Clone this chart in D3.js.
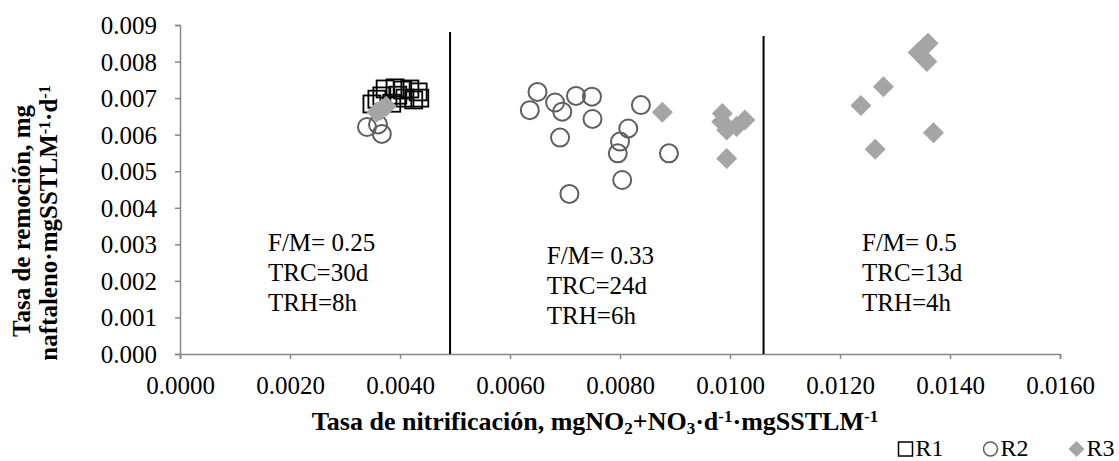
<!DOCTYPE html>
<html><head><meta charset="utf-8">
<script src="https://cdn.jsdelivr.net/npm/d3@7"></script>
<style>body{margin:0;background:#fff}svg{display:block}</style>
</head><body><svg id="c" width="1119" height="461"></svg>
<script>
// ---- data ----
const xTicks = [0, 0.002, 0.004, 0.006, 0.008, 0.010, 0.012, 0.014, 0.016];
const yTicks = [0, 0.001, 0.002, 0.003, 0.004, 0.005, 0.006, 0.007, 0.008, 0.009];
const seriesNames = ["R1", "R2", "R3"];

const r1X = [0.00358, 0.00385, 0.00373, 0.00391, 0.00405, 0.00418, 0.00433, 0.00425, 0.00409, 0.00396, 0.00367, 0.00349, 0.00436];
const r1Y = [0.00697, 0.00686, 0.00725, 0.00728, 0.00722, 0.00725, 0.00717, 0.00695, 0.00700, 0.00708, 0.00706, 0.00684, 0.00700];

const r2X = [0.00340, 0.00367, 0.00360, 0.00650, 0.00636, 0.00682, 0.00695, 0.00720, 0.00749, 0.00750, 0.00691, 0.00838, 0.00815, 0.00800, 0.00796, 0.00889, 0.00804, 0.00708];
const r2Y = [0.00621, 0.00602, 0.00628, 0.00717, 0.00667, 0.00688, 0.00663, 0.00706, 0.00704, 0.00643, 0.00592, 0.00681, 0.00617, 0.00581, 0.00549, 0.00549, 0.00476, 0.00438];

const r3X = [0.00358, 0.00375, 0.00365, 0.00877, 0.00986, 0.00985, 0.00994, 0.01012, 0.01027, 0.00994, 0.01360, 0.01342, 0.01358, 0.01353, 0.01279, 0.01238, 0.01370, 0.01264];
const r3Y = [0.00662, 0.00678, 0.00667, 0.00661, 0.00658, 0.00635, 0.00613, 0.00622, 0.00640, 0.00535, 0.00850, 0.00825, 0.00800, 0.00840, 0.00731, 0.00680, 0.00605, 0.00560];

const dividerX = [0.00491, 0.01061];
const dividerTop = [0.00881, 0.00870];

const regimeX = [0.00160, 0.00667, 0.01240];
const regimeY = [0.00282, 0.00246, 0.00282];
const regimeText = [
  ["F/M= 0.25", "TRC=30d", "TRH=8h"],
  ["F/M= 0.33", "TRC=24d", "TRH=6h"],
  ["F/M= 0.5", "TRC=13d", "TRH=4h"]
];

// ---- chart ----
const FONT = "'Liberation Serif','Times New Roman',serif";
const svg = d3.select("#c");
const m = {l: 180, r: 1060, t: 25, b: 354};
const x = d3.scaleLinear().domain([0, 0.016]).range([m.l, m.r]);
const y = d3.scaleLinear().domain([0, 0.009]).range([m.b, m.t]);
const axisColor = "#868686";

const gx = svg.append("g").attr("transform", `translate(0,${m.b})`)
  .call(d3.axisBottom(x).tickValues(xTicks).tickFormat(d3.format(".4f")).tickSize(5).tickPadding(12));
const gy = svg.append("g").attr("transform", `translate(${m.l},0)`)
  .call(d3.axisLeft(y).tickValues(yTicks).tickFormat(d3.format(".3f")).tickSize(5).tickPadding(18));
[gx, gy].forEach(g => {
  g.attr("font-family", null).attr("font-size", null);
  g.select(".domain").attr("stroke", axisColor).attr("stroke-width", 1.5);
  g.selectAll(".tick line").attr("stroke", axisColor).attr("stroke-width", 1.5);
  g.selectAll(".tick text").attr("fill", "#000").style("font-family", FONT).style("font-size", "25px");
});
gy.selectAll(".tick text").attr("dy", "0.34em");
gx.selectAll(".tick text").attr("dy", "0.9em");

// dividers
svg.append("g").selectAll("line").data(dividerX).join("line")
  .attr("x1", d => x(d)).attr("x2", d => x(d))
  .attr("y1", (d, i) => y(dividerTop[i])).attr("y2", y(0))
  .attr("stroke", "#000").attr("stroke-width", 2);

// series
const r1 = r1X.map((v, i) => [v, r1Y[i]]);
const r2 = r2X.map((v, i) => [v, r2Y[i]]);
const r3 = r3X.map((v, i) => [v, r3Y[i]]);
const sq = 17;
svg.append("g").selectAll("rect").data(r1).join("rect")
  .attr("x", d => x(d[0]) - sq / 2).attr("y", d => y(d[1]) - sq / 2)
  .attr("width", sq).attr("height", sq)
  .attr("fill", "none").attr("stroke", "#000").attr("stroke-width", 1.8);
svg.append("g").selectAll("circle").data(r2).join("circle")
  .attr("cx", d => x(d[0])).attr("cy", d => y(d[1])).attr("r", 9)
  .attr("fill", "none").attr("stroke", "#5f5f5f").attr("stroke-width", 2);
svg.append("g").selectAll("path").data(r3).join("path")
  .attr("transform", d => `translate(${x(d[0])},${y(d[1])})`)
  .attr("d", "M0,-10.5L10.5,0L0,10.5L-10.5,0Z")
  .attr("fill", "#a5a5a5");

// regime annotations
regimeText.forEach((lines, i) => {
  const t = svg.append("text").attr("x", x(regimeX[i])).attr("y", y(regimeY[i]))
    .style("font-family", FONT).style("font-size", "25px").attr("fill", "#000");
  lines.forEach((s, j) => t.append("tspan").attr("x", x(regimeX[i])).attr("dy", j ? 30 : 0).text(s));
});

// x axis title
const xt = svg.append("text").attr("x", 595).attr("y", 430).attr("text-anchor", "middle")
  .style("font-family", FONT).style("font-size", "26px").style("font-weight", "bold");
const parts = [["Tasa de nitrificación, mgNO", 0], ["2", -1], ["+NO", 0], ["3", -1], ["·d", 0], ["-1", 1], ["·mgSSTLM", 0], ["-1", 1]];
parts.forEach(([s, k]) => {
  const ts = xt.append("tspan").text(s);
  if (k === 1) ts.style("font-size", "17px").attr("baseline-shift", "45%");
  if (k === -1) ts.style("font-size", "17px").attr("baseline-shift", "-25%");
});

// y axis title (two lines)
const yt1 = svg.append("text").attr("transform", "translate(30,221) rotate(-90)").attr("text-anchor", "middle")
  .style("font-family", FONT).style("font-size", "25px").style("font-weight", "bold")
  .text("Tasa de remoción, mg");
const yParts = [["naftaleno·mgSSTLM", 0], ["-1", 1], ["·d", 0], ["-1", 1]];
const yt2 = svg.append("text").attr("transform", "translate(57,223) rotate(-90)").attr("text-anchor", "middle")
  .style("font-family", FONT).style("font-size", "25px").style("font-weight", "bold");
yParts.forEach(([s, k]) => {
  const ts = yt2.append("tspan").text(s);
  if (k === 1) ts.style("font-size", "16px").attr("baseline-shift", "45%");
});

// legend
const lg = svg.append("g").style("font-family", FONT).style("font-size", "24px");
const legX = [905.5, 990.5, 1076.5];
const legY = 449;
seriesNames.forEach((n, i) => {
  const cx = legX[i];
  if (i === 0) lg.append("rect").attr("x", cx - 7).attr("y", legY - 7).attr("width", 14).attr("height", 14)
    .attr("fill", "none").attr("stroke", "#000").attr("stroke-width", 1.5);
  if (i === 1) lg.append("circle").attr("cx", cx).attr("cy", legY).attr("r", 7)
    .attr("fill", "none").attr("stroke", "#5f5f5f").attr("stroke-width", 1.5);
  if (i === 2) lg.append("path").attr("transform", `translate(${cx},${legY})`)
    .attr("d", "M0,-8L8,0L0,8L-8,0Z").attr("fill", "#a5a5a5");
  lg.append("text").attr("x", cx + 10).attr("y", legY + 7).text(n);
});
</script></body></html>
